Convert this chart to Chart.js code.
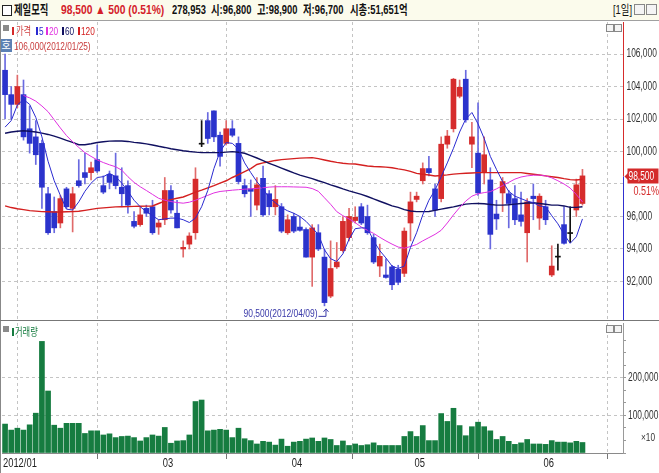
<!DOCTYPE html>
<html>
<head>
<meta charset="utf-8">
<script src="https://cdn.jsdelivr.net/npm/chart.js@4.4.1/dist/chart.umd.min.js"></script>
<style>
  html, body { margin: 0; padding: 0; }
  body { width: 659px; height: 473px; overflow: hidden; background: #fff; position: relative;
         font-family: 'Liberation Sans', 'Noto Sans CJK KR', sans-serif; }
  .abs { position: absolute; white-space: nowrap; }
  .nar { position: absolute; white-space: nowrap; transform-origin: 0 0; }
  #header { left: 0; top: 0; width: 659px; height: 20px; background: #fbfbec; border-bottom: 1px solid #a0a0a0; }
  #header .nar { top: 2px; font-size: 13px; line-height: 16px; color: #111; font-weight: bold; transform: scaleX(0.72); }
  #header .red { color: #d4202a; transform: scaleX(0.79); }
  #priceWrap { left: 0; top: 21px; width: 659px; height: 300px; }
  #volWrap { left: 0; top: 321px; width: 659px; height: 152px; }
  .lg { font-size: 11px; line-height: 12px; transform: scaleX(0.75); }
  .mark { position: absolute; width: 2px; height: 8px; }
  .sq { width: 6px; height: 6px; background: #8a8a8a; }
  .ico { width: 9px; height: 9px; border: 1px solid #888; background: #f4f4f4; }
</style>
</head>
<body>
<div id="header" class="abs">
  <div class="abs" style="left:2px;top:5px;width:8px;height:9px;border:1px solid #222;background:#fff"></div>
  <span class="nar" style="left:14px">제일모직</span>
  <span class="nar red" style="left:61px">98,500 ▲ 500 (0.51%)</span>
  <span class="nar" style="left:172px">278,953</span>
  <span class="nar" style="left:211px">시:96,800</span>
  <span class="nar" style="left:257px">고:98,900</span>
  <span class="nar" style="left:303px">저:96,700</span>
  <span class="nar" style="left:350px">시총:51,651억</span>
  <span class="nar" style="left:613px;font-weight:normal">[1일]</span>
  <div class="abs ico" style="left:634px;top:4px"></div>
  <div class="abs ico" style="left:646px;top:4px"></div>
</div>

<div id="priceWrap" class="abs"><canvas id="priceChart" width="659" height="300"></canvas></div>
<div id="volWrap" class="abs"><canvas id="volChart" width="659" height="152"></canvas></div>

<!-- 가격 패널 범례 -->
<div class="abs sq" style="left:3px;top:25px"></div>
<div class="mark" style="left:12px;top:27px;background:#d42a2a"></div>
<span class="nar lg" style="left:16px;top:25px;color:#d04040">가격</span>
<div class="mark" style="left:36px;top:27px;background:#2a2ad0"></div>
<span class="nar lg" style="left:39px;top:25px;color:#2a2ad0">5</span>
<div class="mark" style="left:46px;top:27px;background:#e030e0"></div>
<span class="nar lg" style="left:49px;top:25px;color:#e030e0">20</span>
<div class="mark" style="left:62px;top:27px;background:#101060"></div>
<span class="nar lg" style="left:65px;top:25px;color:#101060">60</span>
<div class="mark" style="left:78px;top:27px;background:#d42020"></div>
<span class="nar lg" style="left:81px;top:25px;color:#d42020">120</span>
<div class="abs" style="left:0px;top:39px;width:12px;height:13px;background:#5b80b4;color:#fff;font-size:10px;line-height:13px;text-align:center">호</div>
<span class="nar lg" id="highNote" style="left:14px;top:40px;color:#c83a3a"></span>
<div class="abs ico" style="left:606px;top:24px;width:6px;height:6px"></div>
<div class="abs ico" style="left:614px;top:24px;width:6px;height:6px"></div>

<!-- 거래량 패널 범례 -->
<div class="abs sq" style="left:3px;top:326px"></div>
<div class="mark" style="left:12px;top:328px;background:#167c40"></div>
<span class="nar lg" style="left:15px;top:326px;color:#167c40">거래량</span>
<div class="abs ico" style="left:606px;top:325px;width:6px;height:6px"></div>
<div class="abs ico" style="left:614px;top:325px;width:6px;height:6px"></div>
<span class="nar lg" style="left:641px;top:431px;color:#333">×10</span>

<script>
// 거래일
const dates = [
  '2012/01/25','2012/01/26','2012/01/27','2012/01/30','2012/01/31',
  '2012/02/01','2012/02/02','2012/02/03','2012/02/06','2012/02/07','2012/02/08','2012/02/09','2012/02/10',
  '2012/02/13','2012/02/14','2012/02/15','2012/02/16','2012/02/17','2012/02/20','2012/02/21','2012/02/22',
  '2012/02/23','2012/02/24','2012/02/27','2012/02/28','2012/02/29',
  '2012/03/02','2012/03/05','2012/03/06','2012/03/07','2012/03/08','2012/03/09','2012/03/12','2012/03/13',
  '2012/03/14','2012/03/15','2012/03/16','2012/03/19','2012/03/20','2012/03/21','2012/03/22','2012/03/23',
  '2012/03/26','2012/03/27','2012/03/28','2012/03/29','2012/03/30',
  '2012/04/02','2012/04/03','2012/04/04','2012/04/05','2012/04/06','2012/04/09','2012/04/10','2012/04/12',
  '2012/04/13','2012/04/16','2012/04/17','2012/04/18','2012/04/19','2012/04/20','2012/04/23','2012/04/24',
  '2012/04/25','2012/04/26','2012/04/27','2012/04/30',
  '2012/05/02','2012/05/03','2012/05/04','2012/05/07','2012/05/08','2012/05/09','2012/05/10','2012/05/11',
  '2012/05/14','2012/05/15','2012/05/16','2012/05/17','2012/05/18','2012/05/21','2012/05/22','2012/05/23',
  '2012/05/24','2012/05/25','2012/05/29','2012/05/30','2012/05/31',
  '2012/06/01','2012/06/04','2012/06/05','2012/06/07','2012/06/08','2012/06/11','2012/06/12'
];

const opens = [
  105000,103500,102900,103500,101400, 100900,100500,97400,96300,95600,97700,96500,98200,
  98700,98700,99500,97900,98600,98500,97800,97900,95700,95500,96500,96600,95350,
  95800,97600,96200,94000,94300,95000,100450,101900,102500,101000,100500,101400,100500,
  97900,97700,96700,98350,97400,96600,96600,95000,
  96000,95350,95200,93500,95000,93500,91100,92900,93900,94700,95750,96600,96000,94700,
  92950,92400,92900,92750,92500,95600,
  97050,98200,98950,97700,97100,100450,101400,103400,104450,100450,99900,98700,98250,
  96150,97450,97400,97100,96100,95000,97250,95900,
  96600,92400,93500,95500,94950,96400,96800
];
const highs = [
  106000,104000,104700,104400,102800, 101900,100700,97800,97200,97300,97800,97800,99500,
  99900,99350,100400,98500,98800,99900,99000,98200,96300,96600,96700,97000,95800,
  98400,97900,97000,94500,95000,99000,101900,102400,102500,101200,101900,101900,100900,
  98300,98250,98400,99100,97600,97900,96800,96100,
  96200,96000,95300,95500,95500,94000,94500,94400,96000,96500,96600,96800,96700,94900,
  94300,93400,93000,93000,95300,97500,
  97500,99300,99700,98000,100900,101300,104500,104400,105000,101800,103000,100900,99000,
  97000,98400,97600,97900,97500,97100,98000,97400,
  97000,94200,94300,96600,96600,98300,98900
];
const lows = [
  102000,102000,102700,100700,99900, 99200,96500,94900,95000,95300,96500,95050,97800,
  98000,98250,98700,97400,97700,97700,96600,96200,95300,95400,96000,94900,94900,
  95500,96200,95300,93500,94000,94600,100300,100500,100600,99100,100400,100900,98000,
  97200,96000,96400,96000,96100,96100,95000,94900,
  95000,95100,93500,91700,93900,90500,91000,92800,93800,94500,95600,95500,94900,93100,
  92300,92200,91500,91800,92300,94500,
  96900,98000,98500,96000,96900,100200,101200,103300,101800,99000,97300,98000,94000,
  95200,96300,95300,95500,95400,93200,95800,95200,
  95500,92300,92700,94300,94400,96000,96700
];
const closes = [
  103500,102900,104000,100900,100500, 99800,97800,95000,95300,97100,96600,97400,97900,
  98400,99000,98800,97500,98100,97900,97400,96700,95400,96100,96200,95000,95600,
  97600,96400,95300,94100,94800,98300,100450,100800,100900,99700,101400,101000,98150,
  97400,97550,97950,96100,96600,97050,95100,95800,
  95100,95150,93500,95300,94000,90700,92800,93200,95700,96000,95950,95600,95000,93200,
  93550,92250,91800,91950,95100,96900,
  97250,98950,98700,96400,100450,100950,104450,103950,101950,100900,97450,99800,94900,
  95850,98150,96800,95800,95700,96900,97100,97250,
  95800,92950,93500,94350,94950,97950,98500
];

// 거래량 (×10)
const volumes = [
  77000,61000,66000,61000,75000, 106000,297000,165000,74000,66000,79000,79000,79000,
  52000,59000,59000,48000,51000,41000,44000,45000,41000,32000,41000,48000,45000,
  68000,26000,32000,33000,48000,137000,141000,59000,61000,63000,61000,41000,66000,
  38000,33000,24000,31000,29000,21000,37000,18000,
  29000,31000,37000,40000,31000,40000,36000,20000,32000,20000,24000,20000,22000,27000,
  20000,20000,20000,20000,44000,57000,
  44000,73000,33000,33000,105000,84000,119000,73000,46000,70000,82000,70000,59000,
  36000,44000,31000,23000,27000,36000,24000,24000,
  23000,33000,29000,29000,27000,31000,28000
];

// 이동평균선
const ma5 = [
  101500,101900,102860,103200,102900, 102100,100900,99400,98200,97300,96450,96400,96900,
  97550,98050,98400,98450,98650,98450,98050,97550,97000,96600,96300,96050,95800,
  95850,95900,95900,95800,95630,95900,96600,97600,98950,100000,100550,100500,100150,
  99300,98700,98140,97700,97150,96850,96550,96350,
  96200,96000,95700,95300,94900,93950,93400,93230,93700,94600,95250,95300,95290,94500,
  93900,93450,92950,92800,92950,94100,
  95000,96100,97000,97630,98450,99300,100200,101200,102000,102400,101700,100800,99700,
  98900,98150,97550,97250,97100,96950,96850,96650,
  96600,96050,95550,94900,94350,94750,95850
];
const ma20 = [
  null,null,null,103450,103300, 103100,102800,102450,101950,101450,100980,100600,100250,
  99930,99700,99480,99320,99180,99060,98850,98450,98100,97830,97600,97360,97120,
  97000,96920,96860,96820,96880,97000,97150,97300,97450,97540,97580,97620,97650,
  97680,97700,97730,97770,97810,97830,97830,97830,
  97820,97810,97800,97720,97550,97150,96750,96300,96050,95850,95620,95350,95150,94960,
  94720,94500,94300,94120,94050,94150,
  94280,94500,94700,94900,95150,95600,96100,96550,96950,97250,97400,97470,97530,
  97700,97900,98100,98300,98430,98500,98540,98550,
  98500,98380,98200,98000,97750,97350,96900
];
const ma60 = [
  101120,101200,101250,101280,101250, 101200,101130,101050,100950,100820,100680,100560,100420,
  100420,100480,100550,100600,100640,100650,100650,100620,100560,100520,100470,100400,100320,
  100250,100170,100110,100050,100000,99960,99930,99930,99930,99940,99960,99990,99950,
  99890,99750,99600,99440,99270,99130,98980,98830,
  98680,98550,98440,98330,98200,98080,97950,97830,97700,97580,97470,97360,97230,97080,
  96940,96800,96650,96560,96420,96340,
  96300,96300,96310,96380,96450,96520,96590,96680,96760,96790,96800,96780,96740,
  96700,96700,96720,96760,96800,96830,96850,96800,
  96750,96700,96700,96650,96560,96560,96600
];
const ma120 = [
  96650,96550,96480,96420,96360, 96330,96300,96290,96280,96280,96290,96300,96320,
  96380,96440,96500,96530,96560,96590,96600,96610,96620,96630,96640,96650,96800,
  96950,97040,97120,97200,97350,97500,97620,97760,97900,98050,98200,98400,98580,
  98760,98950,99200,99300,99370,99450,99500,99530,
  99560,99590,99610,99620,99560,99480,99400,99330,99280,99240,99230,99170,99110,99080,
  99060,99040,99000,98930,98870,98780,
  98650,98600,98550,98490,98520,98560,98610,98640,98660,98680,98700,98700,98700,
  98700,98700,98700,98700,98700,98650,98600,98550,
  98500,98450,98400,98330,98270,98250,98290
];

// 축 눈금
const monthLabels = ['2012/01', '', '03', '04', '05', '06'];
const priceTicks = [92000, 94000, 96000, 98000, 100000, 102000, 104000, 106000];
const volumeLabelTicks = [100000, 200000];

const UP = '#d62c2c', DOWN = '#2b33cc', FLAT = '#111111';
const UP_WICK = '#e06a6a', DOWN_WICK = '#6a6ae0';
const GRID = '#c4c4c4';
const X_MIN = -0.5, X_MAX = 100.6;
const FONT = '"Liberation Sans", Arial, sans-serif';
const fmt = v => Math.round(v).toLocaleString('en-US');

// 월 시작 인덱스
const monthStarts = dates.reduce((acc, d, i) => {
  if (i === 0 || d.slice(5, 7) !== dates[i - 1].slice(5, 7)) acc.push(i);
  return acc;
}, []);

const lastClose = closes[closes.length - 1];
const prevClose = lastClose - 500;

const candleColor = i => closes[i] > opens[i] ? UP : closes[i] < opens[i] ? DOWN : FLAT;
const wickColor = i => closes[i] > opens[i] ? UP_WICK : closes[i] < opens[i] ? DOWN_WICK : FLAT;

// 최고/최저 표시
const hiIdx = highs.indexOf(Math.max(...highs));
const loIdx = lows.indexOf(Math.min(...lows));
document.getElementById('highNote').textContent = `${fmt(highs[hiIdx])}(${dates[hiIdx]})`;

// 좁은 글꼴 흉내 (가로 압축)
function narrowText(ctx, text, x, y, align, sx) {
  ctx.save();
  ctx.translate(x, y);
  ctx.scale(sx, 1);
  ctx.textAlign = align;
  ctx.fillText(text, 0, 0);
  ctx.restore();
}

function monthTickBuilder(scale) {
  scale.ticks = monthStarts.map(i => ({ value: i - 0.5 }));
}

const lineDs = (label, data, color, width) => ({
  type: 'line', label, data: data.map((v, i) => ({ x: i, y: v })),
  borderColor: color, borderWidth: width, pointRadius: 0, tension: 0, spanGaps: false
});

const priceMarks = {
  id: 'priceMarks',
  afterDraw(chart) {
    const { ctx, chartArea, scales: { x, y } } = chart;
    const yLast = Math.round(y.getPixelForValue(lastClose)) + 0.5;
    const ax = chartArea.right + 0.5;
    ctx.save();
    // 오른쪽 축 눈금 라벨
    ctx.font = `12px ${FONT}`;
    ctx.textBaseline = 'middle';
    ctx.fillStyle = '#333';
    priceTicks.forEach(v => {
      if (Math.abs(v - lastClose) < 800) return;
      narrowText(ctx, fmt(v), ax + 3, y.getPixelForValue(v), 'left', 0.7);
    });

    // 오른쪽 축선 (현재가 위 빨강, 아래 파랑)
    ctx.lineWidth = 1;
    ctx.strokeStyle = '#d62c2c';
    ctx.beginPath(); ctx.moveTo(ax, chartArea.top); ctx.lineTo(ax, yLast); ctx.stroke();
    ctx.strokeStyle = '#3030d0';
    ctx.beginPath(); ctx.moveTo(ax, yLast); ctx.lineTo(ax, chartArea.bottom); ctx.stroke();

    // 현재가 박스
    ctx.fillStyle = '#d42a2a';
    ctx.fillRect(ax + 4, yLast - 8, 31, 15);
    ctx.beginPath();
    ctx.moveTo(ax + 1, yLast); ctx.lineTo(ax + 5, yLast - 4); ctx.lineTo(ax + 5, yLast + 4); ctx.closePath();
    ctx.fill();
    ctx.fillStyle = '#fff';
    narrowText(ctx, fmt(lastClose), ax + 5, yLast, 'left', 0.7);
    ctx.fillStyle = '#d42a2a';
    const pct = ((lastClose - prevClose) / prevClose * 100).toFixed(2) + '%';
    narrowText(ctx, pct, ax + 10, yLast + 15, 'left', 0.75);

    // 최저가 표시
    const lx = x.getPixelForValue(loIdx);
    const ly = y.getPixelForValue(lows[loIdx]);
    ctx.font = `11px ${FONT}`;
    ctx.fillStyle = '#3838a8';
    ctx.strokeStyle = '#3838a8';
    ctx.textBaseline = 'alphabetic';
    narrowText(ctx, `${fmt(lows[loIdx])}(${dates[loIdx]})`, lx - 7, ly + 11, 'right', 0.77);
    ctx.beginPath();
    ctx.moveTo(lx - 6, ly + 10.5); ctx.lineTo(lx + 1.5, ly + 10.5); ctx.lineTo(lx + 1.5, ly + 4);
    ctx.stroke();
    ctx.beginPath();
    ctx.moveTo(lx - 1, ly + 6); ctx.lineTo(lx + 1.5, ly + 3); ctx.lineTo(lx + 4, ly + 6);
    ctx.stroke();
    ctx.restore();
  }
};

const volMarks = {
  id: 'volMarks',
  afterDraw(chart) {
    const { ctx, chartArea, scales: { x, y } } = chart;
    ctx.save();
    ctx.font = `12px ${FONT}`;
    ctx.textBaseline = 'middle';
    ctx.fillStyle = '#333';
    volumeLabelTicks.forEach(v => {
      narrowText(ctx, fmt(v), chartArea.right + 5, y.getPixelForValue(v), 'left', 0.7);
    });
    ctx.fillStyle = '#222';
    monthStarts.forEach((idx, k) => {
      if (!monthLabels[k]) return;
      narrowText(ctx, monthLabels[k], x.getPixelForValue(idx - 0.5) + 1, chartArea.bottom + 11, 'left', 0.78);
    });
    ctx.restore();
  }
};

new Chart(document.getElementById('priceChart'), {
  type: 'bar',
  data: {
    datasets: [
      lineDs('5', ma5, '#2a2ad0', 1),
      lineDs('20', ma20, '#e030e0', 1),
      lineDs('60', ma60, '#101060', 1.4),
      lineDs('120', ma120, '#d42020', 1.4),
      {
        label: 'body', grouped: false, barThickness: 5, minBarLength: 1,
        data: opens.map((o, i) => ({ x: i, y: [o, closes[i]] })),
        backgroundColor: opens.map((_, i) => candleColor(i)), borderWidth: 0
      },
      {
        label: 'wick', grouped: false, barThickness: 1,
        data: lows.map((l, i) => ({ x: i, y: [l, highs[i]] })),
        backgroundColor: lows.map((_, i) => wickColor(i)), borderWidth: 0
      }
    ]
  },
  options: {
    responsive: false, animation: false, events: [],
    layout: { padding: { left: 2, right: 0, top: 1, bottom: 1 } },
    plugins: { legend: { display: false }, tooltip: { enabled: false } },
    scales: {
      x: {
        type: 'linear', min: X_MIN, max: X_MAX, offset: false,
        afterBuildTicks: monthTickBuilder,
        afterFit: s => { s.height = 0; },
        ticks: { display: false },
        grid: { color: c => c.index === 0 ? 'rgba(0,0,0,0)' : GRID, drawTicks: false },
        border: { display: false, dash: [3, 3] }
      },
      y: {
        position: 'right', min: 89630, max: 107970,
        afterBuildTicks: s => { s.ticks = priceTicks.map(v => ({ value: v })); },
        afterFit: s => { s.width = 36; },
        ticks: { display: false },
        grid: { color: GRID, drawTicks: false },
        border: { display: false, dash: [3, 3] }
      }
    }
  },
  plugins: [priceMarks]
});

new Chart(document.getElementById('volChart'), {
  type: 'bar',
  data: {
    datasets: [{
      label: '거래량', grouped: false, barThickness: 5,
      data: volumes.map((v, i) => ({ x: i, y: v })),
      backgroundColor: '#167c40', borderWidth: 0
    }]
  },
  options: {
    responsive: false, animation: false, events: [],
    layout: { padding: { left: 2, right: 0, top: 2, bottom: 0 } },
    plugins: { legend: { display: false }, tooltip: { enabled: false } },
    scales: {
      x: {
        type: 'linear', min: X_MIN, max: X_MAX, offset: false,
        afterBuildTicks: monthTickBuilder,
        afterFit: s => { s.height = 20; },
        ticks: { display: false },
        grid: {
          color: c => c.index === 0 ? 'rgba(0,0,0,0)' : GRID,
          tickColor: c => c.index === 1 ? 'rgba(0,0,0,0)' : '#777',
          tickLength: 6, drawTicks: true
        },
        border: { display: true, color: '#8a8a8a', dash: [3, 3] }
      },
      y: {
        position: 'right', min: 0, max: 346000,
        afterBuildTicks: s => {
          s.ticks = Array.from({ length: 10 }, (_, k) => ({ value: k * 100000 / 3 }));
        },
        afterFit: s => { s.width = 36; },
        ticks: { display: false },
        grid: {
          color: c => volumeLabelTicks.some(t => Math.abs(t - c.tick.value) < 1) ? GRID : 'rgba(0,0,0,0)',
          tickColor: '#999', tickLength: 3, drawTicks: true
        },
        border: { display: true, color: '#9a9a9a', dash: [3, 3] }
      }
    }
  },
  plugins: [volMarks]
});
</script>
<div class="abs" style="left:0;top:21px;width:1px;height:452px;background:#888"></div>
<div class="abs" style="left:0;top:320px;width:659px;height:1px;background:#777"></div>
</body>
</html>
